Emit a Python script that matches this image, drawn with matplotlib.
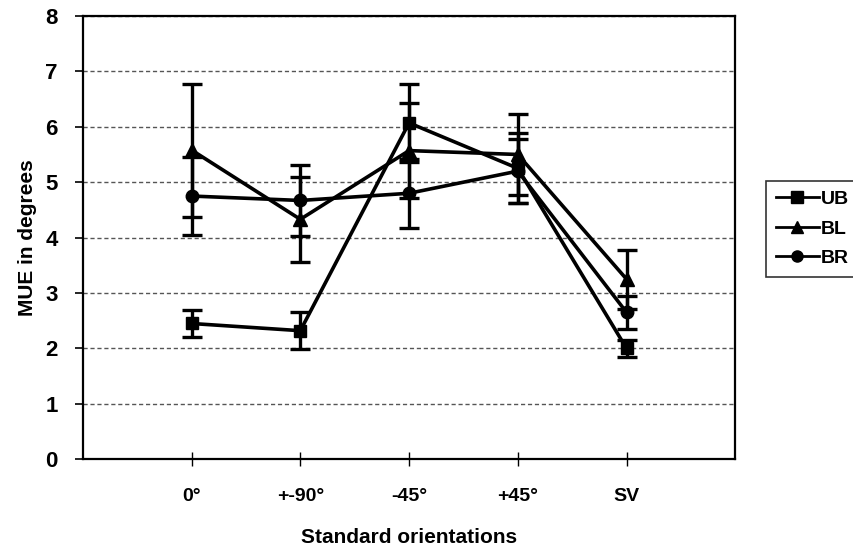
import matplotlib.pyplot as plt
from matplotlib.lines import Line2D
import numpy as np

plt.rcParams['font.family'] = ['Liberation Sans', 'DejaVu Sans']

# categories and values
orientations = ['0°', '+-90°', '-45°', '+45°', 'SV']
ub = [2.45, 2.32, 6.07, 5.25, 2.00]
ub_err = [0.25, 0.33, 0.70, 0.63, 0.16]
bl = [5.58, 4.33, 5.57, 5.50, 3.25]
bl_err = [1.20, 0.77, 0.86, 0.73, 0.53]
br = [4.75, 4.67, 4.80, 5.20, 2.65]
br_err = [0.71, 0.64, 0.62, 0.58, 0.30]

x = np.arange(1, len(orientations) + 1)

fig = plt.figure(figsize=(8.54, 5.5), dpi=100)
ax = fig.add_axes([0.097, 0.165, 0.764, 0.806])

series = [('UB', ub, ub_err, 's', 9),
          ('BL', bl, bl_err, '^', 10),
          ('BR', br, br_err, 'o', 9)]
handles = []
for name, vals, errs, mk, ms in series:
    ax.errorbar(x, vals, yerr=errs, color='black', marker=mk, markersize=ms,
                linewidth=2.6, elinewidth=2.4, capsize=7, capthick=2.4)
    handles.append(Line2D([], [], color='black', marker=mk, markersize=ms - 1,
                          linewidth=2, label=name))

ax.set_xlim(0, len(orientations) + 1)
ax.set_ylim(0, 8)
ax.set_xticks(x)
ax.set_xticklabels(orientations)
ax.set_yticks(range(0, 9))
ax.grid(axis='y', linestyle=(0, (3, 2)), color='#555555', linewidth=1)
ax.set_axisbelow(True)
for sp in ax.spines.values():
    sp.set_linewidth(1.6)
ax.tick_params(axis='y', direction='out', length=6, width=1.2, labelsize=16, pad=12)
ax.tick_params(axis='x', direction='inout', length=10, width=1, labelsize=14, pad=16)
for lab in ax.get_xticklabels() + ax.get_yticklabels():
    lab.set_fontweight('bold')

ax.set_xlabel('Standard orientations', fontsize=15, fontweight='bold', labelpad=16)
ax.set_ylabel('MUE in degrees', fontsize=15, fontweight='bold', labelpad=6)

leg = fig.legend(handles=handles, loc='upper left', bbox_to_anchor=(0.897, 0.671),
                 frameon=True, fancybox=False, edgecolor='black', fontsize=14,
                 handlelength=2.2, borderpad=0.5, labelspacing=0.6,
                 handletextpad=0.1, borderaxespad=0)
leg.get_frame().set_linewidth(1.2)
for t in leg.get_texts():
    t.set_fontweight('bold')

fig.savefig('out.png', dpi=100)
